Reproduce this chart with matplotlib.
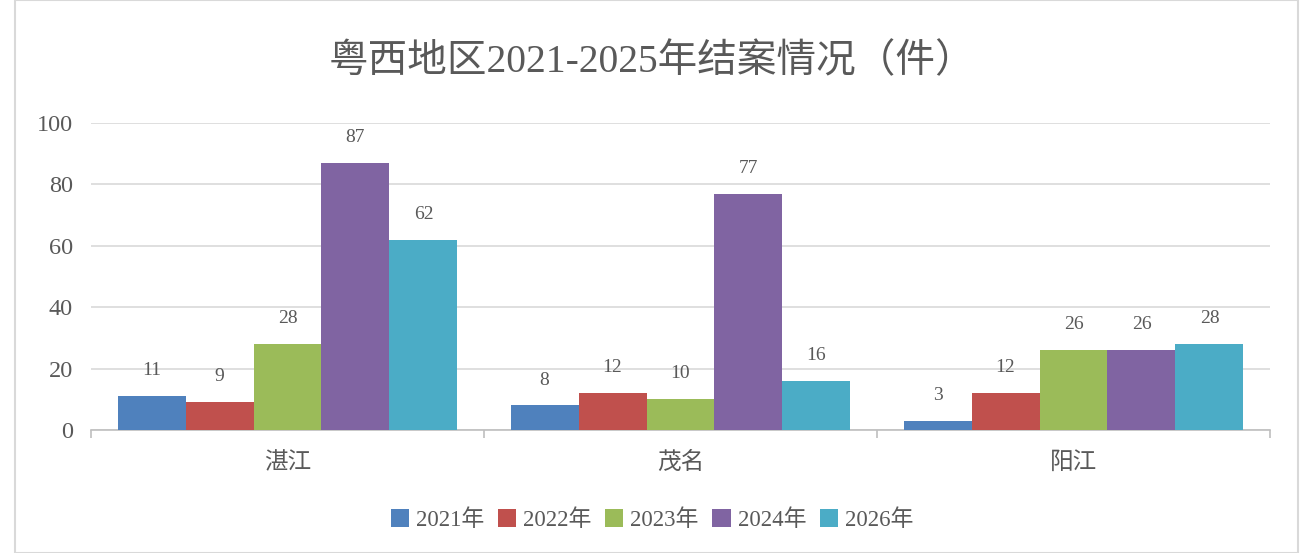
import matplotlib
matplotlib.use("Agg")
import matplotlib.pyplot as plt
import numpy as np
from matplotlib.patches import Rectangle

plt.rcParams['font.family'] = ['Liberation Serif', 'Noto Sans CJK SC', 'DejaVu Sans']

title = "粤西地区2021-2025年结案情况（件）"
categories = ["湛江", "茂名", "阳江"]
series_names = ["2021年", "2022年", "2023年", "2024年", "2026年"]
values = {
    "2021年": [11, 8, 3],
    "2022年": [9, 12, 12],
    "2023年": [28, 10, 26],
    "2024年": [87, 77, 26],
    "2026年": [62, 16, 28],
}
colors = ["#4F81BD", "#C0504D", "#9BBB59", "#8064A2", "#4BACC6"]
yticks = [0, 20, 40, 60, 80, 100]

txt = "#595959"
fig = plt.figure(figsize=(13.04, 5.53), dpi=100)
fig.patches.append(Rectangle((15/1304, 0), (1298-15)/1304, 1, transform=fig.transFigure,
                             fill=False, edgecolor="#D9D9D9", linewidth=1.5))

ax = fig.add_axes([91/1304, 1-430/553, (1270-91)/1304, (430-123)/553])
n = len(series_names)
bw = 0.173
x = np.arange(len(categories))
for i, (name, c) in enumerate(zip(series_names, colors)):
    pos = x + (i - (n-1)/2) * bw
    bars = ax.bar(pos, values[name], width=bw, color=c, label=name, zorder=3)
    for p, v in zip(pos, values[name]):
        ax.text(p, v + 5.5, str(v), ha="center", va="bottom", fontsize=14, color=txt)

ax.set_xlim(-0.5, len(categories) - 0.5)
ax.set_ylim(0, 100)
ax.set_yticks(yticks)
ax.set_yticklabels([str(t) for t in yticks], fontsize=17.5, color=txt)
ax.yaxis.grid(True, color="#D9D9D9", linewidth=1.2, zorder=0)
ax.tick_params(axis="y", length=0, pad=13)
ax.set_xticks(x)
ax.set_xticklabels(categories, fontsize=17, color=txt)
ax.tick_params(axis="x", length=0, pad=16)
ax.set_xticks(np.arange(len(categories) + 1) - 0.5, minor=True)
ax.tick_params(axis="x", which="minor", length=6, color="#BFBFBF", width=1.2)
for s in ["top", "right", "left"]:
    ax.spines[s].set_visible(False)
ax.spines["bottom"].set_color("#BFBFBF")
ax.spines["bottom"].set_linewidth(1.2)

fig.text(0.5, 1-62/553, title, ha="center", va="center", fontsize=28.5, color=txt)

handles, labels = ax.get_legend_handles_labels()
fig.legend(handles, labels, loc="center", bbox_to_anchor=(0.5, 1-520/553), ncol=5,
           frameon=False, fontsize=16.5, labelcolor=txt, handlelength=0.8, handleheight=0.8,
           handletextpad=0.3, columnspacing=0.6)

fig.savefig("out.png", dpi=100)
